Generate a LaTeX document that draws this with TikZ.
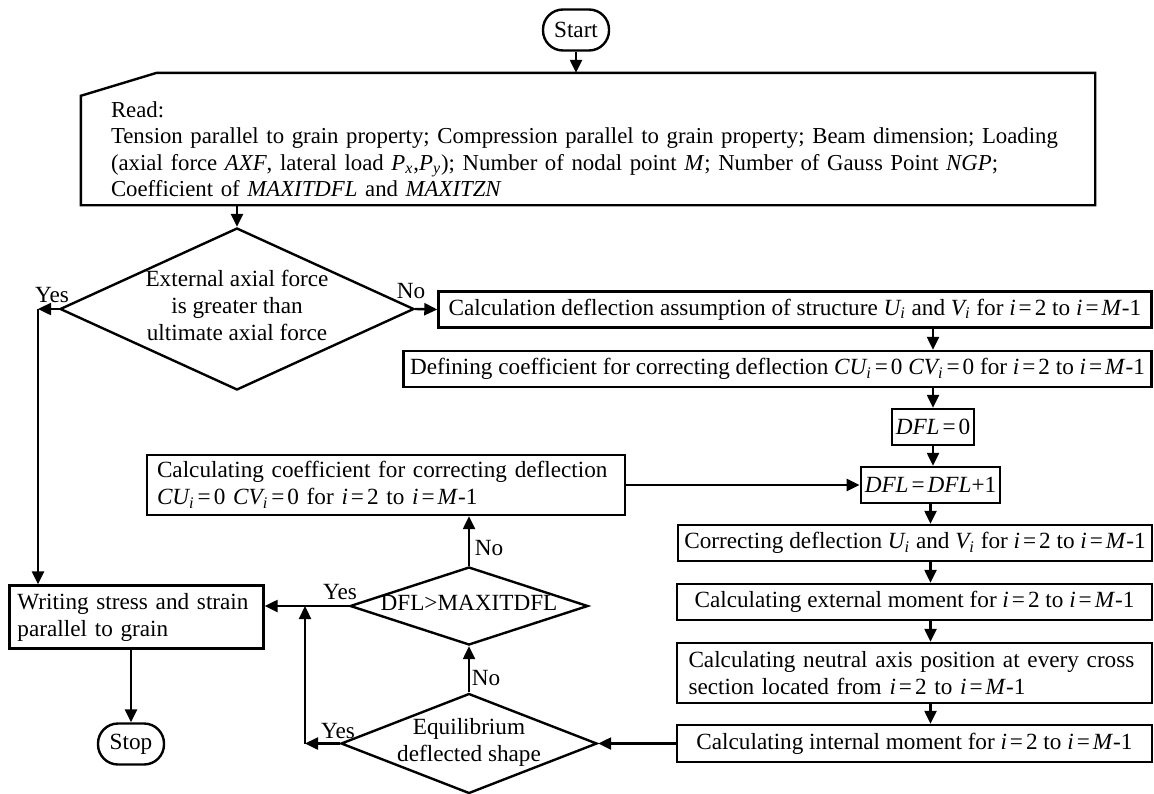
\documentclass[tikz,border=0pt]{standalone}
\usepackage{fontspec}
\setmainfont{Liberation Serif}
\usetikzlibrary{shapes.geometric,arrows.meta}
\newcommand{\eqs}{\kern1.5pt=\kern1.5pt}
\newcommand{\irange}{\textit{i}\eqs2 to \textit{i}\eqs\textit{M}-1}
\newcommand{\dtext}[1]{\smash{\makebox[0pt]{\raisebox{-2.75pt}{\begin{tabular}{@{}c@{}}#1\end{tabular}}}}}
\begin{document}
\begin{tikzpicture}[x=.5pt,y=-.5pt,line width=1.2pt,
  font=\fontsize{11.6}{13.5}\selectfont,
  box/.style={draw,rectangle,inner xsep=2pt,inner ysep=0pt},
  term/.style={draw,rounded corners=10pt,minimum width=33pt,minimum height=20.5pt,inner sep=0pt},
  dec/.style={draw,diamond,inner sep=0pt},
  arr/.style={-{Triangle[length=6.5pt,width=6pt]}},
  lbl/.style={inner sep=0pt}]
\useasboundingbox (0,0) rectangle (1154,793);
% nodes
\node[term] (start) at (576,30) {Start};
\node[box,draw=none,text width=492pt,inner xsep=0pt,minimum height=65pt,align=left,
  font=\fontsize{11.4}{13.2}\selectfont] (read) at (603,139)
  {\rule{0pt}{18pt}Read:\\
   Tension parallel to grain property; Compression parallel to grain property; Beam dimension; Loading\\
   (axial force \textit{AXF}, lateral load \textit{P\textsubscript{x}},\textit{P\textsubscript{y}}); Number of nodal point \textit{M}; Number of Gauss Point \textit{NGP};\\
   Coefficient of \textit{MAXITDFL} and \textit{MAXITZN}};
\draw ([xshift=-14.5pt]read.south west) -- ([xshift=-14.5pt,yshift=-11.5pt]read.north west)
  -- ([xshift=23.5pt]read.north west) -- ([xshift=-.5pt]read.north east) -- ([xshift=-.5pt]read.south east) -- cycle;
\node[dec,minimum width=177pt,minimum height=81pt] (dec1) at (237,309) {\dtext{External axial force\\is greater than\\ultimate axial force}};
\node[box,minimum width=356.5pt,minimum height=18pt] (calc1) at (795,309.5) {Calculation deflection assumption of structure \textit{U\textsubscript{i}} and \textit{V\textsubscript{i}} for \irange};
\node[box,minimum width=374pt,minimum height=18pt] (defc) at (777.5,369) {Defining coefficient for correcting deflection \textit{CU\textsubscript{i}}\eqs0 \textit{CV\textsubscript{i}}\eqs0 for \irange};
\node[box,minimum width=40pt,minimum height=18pt] (dfl0) at (933,427) {\textit{DFL}\eqs0};
\node[box,minimum width=67.5pt,minimum height=18pt] (dflinc) at (930.5,485) {\textit{DFL}\eqs\textit{DFL}+1};
\node[box,text width=229pt,inner xsep=5pt,minimum height=30pt,align=left] (coef) at (386,485)
  {Calculating coefficient for correcting deflection\\ \textit{CU\textsubscript{i}}\eqs0 \textit{CV\textsubscript{i}}\eqs0 for \irange};
\node[box,minimum width=237pt,minimum height=18pt] (corr) at (915,543) {Correcting deflection \textit{U\textsubscript{i}} and \textit{V\textsubscript{i}} for \irange};
\node[box,minimum width=237.5pt,minimum height=18pt] (extm) at (914.5,602) {Calculating external moment for \irange};
\node[box,text width=226pt,inner xsep=5.75pt,minimum height=30pt,align=left] (neut) at (914.5,673)
  {Calculating neutral axis position at every cross\\section located from \irange};
\node[box,minimum width=237.5pt,minimum height=18.5pt] (intm) at (914.5,743.5) {Calculating internal moment for \irange};
\node[dec,minimum width=128pt,minimum height=50pt] (eqd) at (469,743.5) {\dtext{Equilibrium\\deflected shape}};
\node[dec,minimum width=119pt,minimum height=39pt] (dfld) at (469,606) {\dtext{DFL>MAXITDFL}};
\node[box,text width=119pt,inner xsep=4pt,minimum height=31.5pt,align=left] (write) at (136.5,617)
  {Writing stress and strain\\parallel to grain};
\node[term] (stop) at (131,744) {Stop};
\coordinate (yes1) at (38,309);
\coordinate (yes2) at (305,743.5);
% labels
\node[lbl] (lyes1) at (52,295) {Yes};
\node[lbl] (lno1) at (411,291) {No};
\node[lbl] (lno2) at (489,548) {No};
\node[lbl] (lyes2) at (340,592) {Yes};
\node[lbl] (lno3) at (486,678) {No};
\node[lbl] (lyes3) at (338,731) {Yes};
% connectors
\draw[arr] (start.south) -- (start.south |- read.north);
\draw[arr] (read.south -| dec1) -- (dec1.north);
\draw[arr] (dec1.east) -- (calc1.west);
\draw[arr] (dec1.west) -- (yes1);
\draw[arr] (yes1) -- (yes1 |- write.north);
\draw[arr] (calc1.south -| dfl0) -- (defc.north -| dfl0);
\draw[arr] (defc.south -| dfl0) -- (dfl0.north);
\draw[arr] (dfl0.south) -- (dfl0.south |- dflinc.north);
\draw[arr] (dflinc.south) -- (dflinc.south |- corr.north);
\foreach \a/\b in {corr/extm,extm/neut,neut/intm}
  \draw[arr] (\a.south -| dflinc) -- (\b.north -| dflinc);
\draw[arr] (coef.east) -- (dflinc.west);
\draw[arr] (intm.west) -- (eqd.east);
\draw[arr] (eqd.north) -- (dfld.south);
\draw[arr] (dfld.north) -- (dfld.north |- coef.south);
\draw[arr] (dfld.west) -- (dfld.west -| write.east);
\draw[arr] (eqd.west) -- (yes2);
\draw[arr] (yes2) -- (yes2 |- dfld.west);
\draw[arr] (write.south -| stop) -- (stop.north);
\end{tikzpicture}
\end{document}
